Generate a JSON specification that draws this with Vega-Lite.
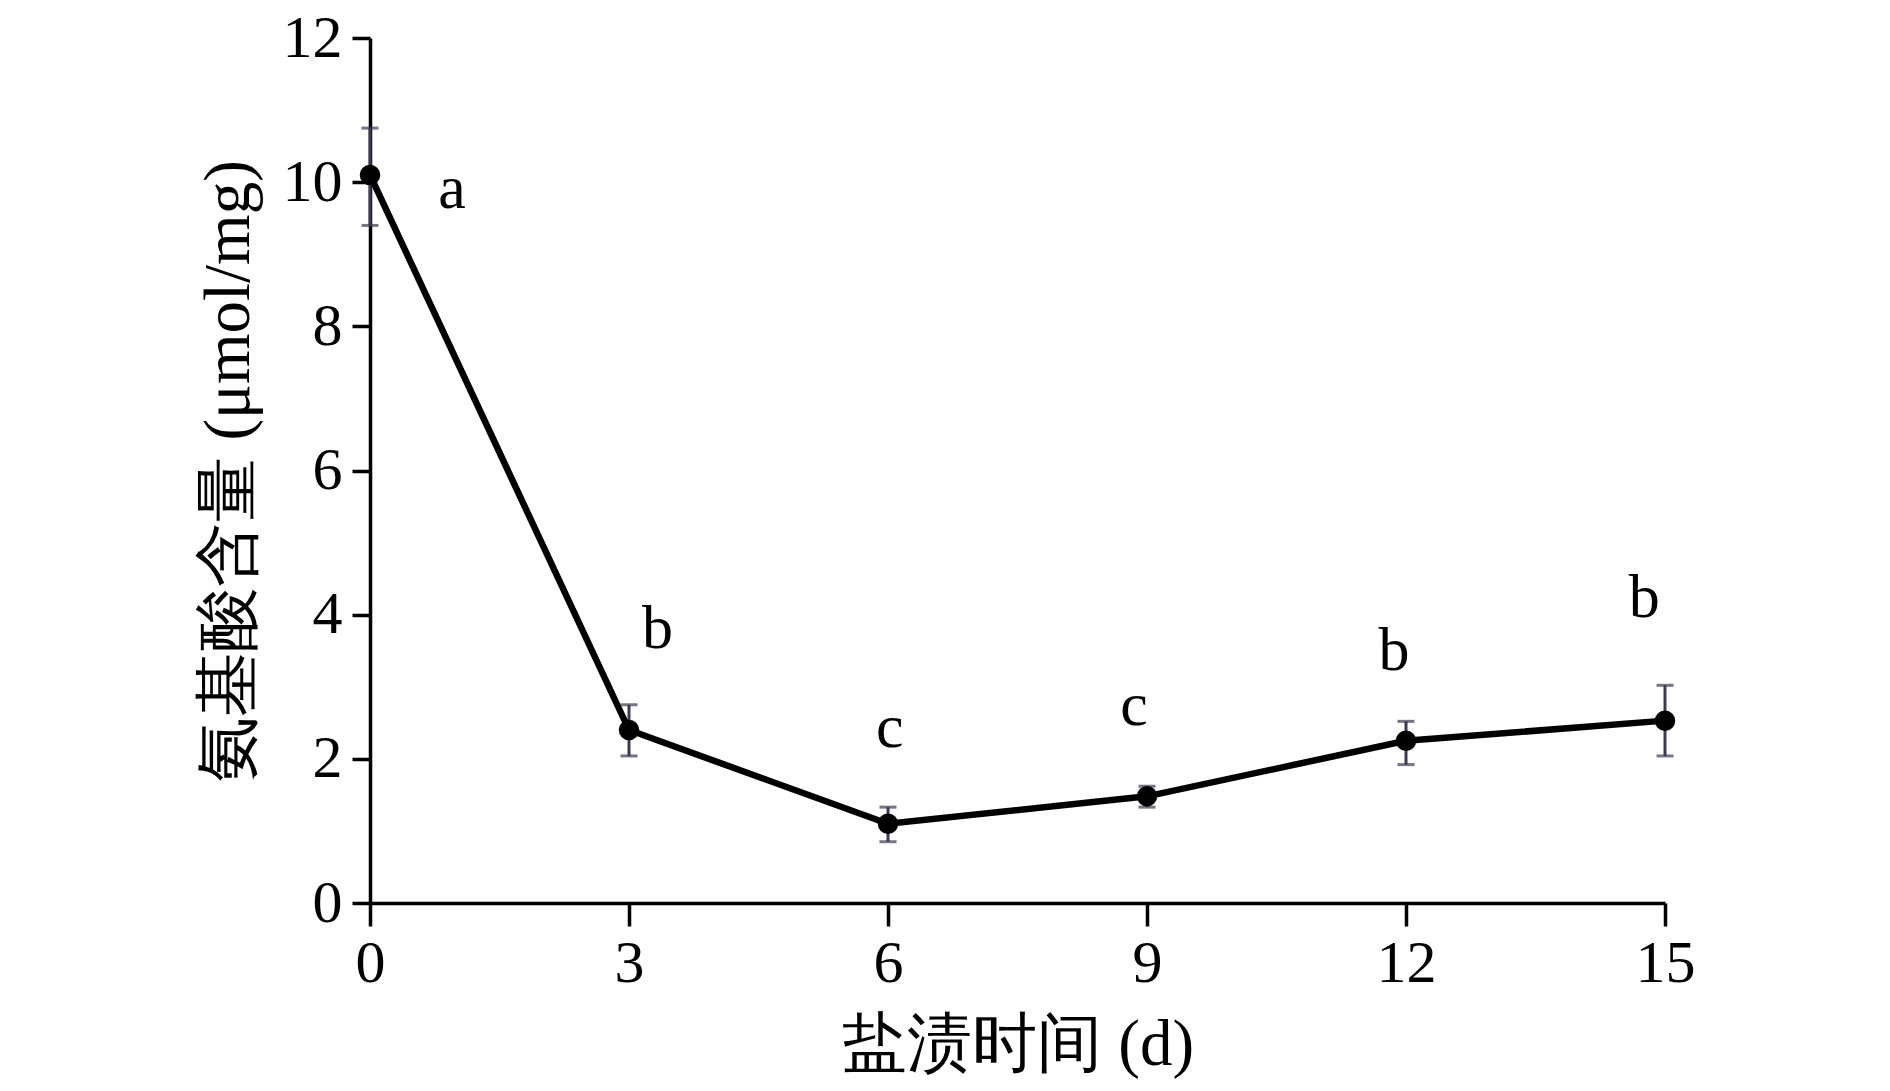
{
  "$schema": "https://vega.github.io/schema/vega-lite/v6.json",
  "autosize": "none",
  "padding": {"left": 370, "top": 38, "right": 225, "bottom": 188},
  "width": 1295,
  "height": 865,
  "background": "white",
  "data": {"values": [
    {"day": 0, "mean": 10.1, "lo": 9.4, "hi": 10.75, "letter": "a", "lx": 0.95, "ly": 9.9},
    {"day": 3, "mean": 2.4, "lo": 2.04, "hi": 2.75, "letter": "b", "lx": 3.33, "ly": 3.8},
    {"day": 6, "mean": 1.1, "lo": 0.85, "hi": 1.33, "letter": "c", "lx": 6.02, "ly": 2.43},
    {"day": 9, "mean": 1.48, "lo": 1.33, "hi": 1.62, "letter": "c", "lx": 8.85, "ly": 2.73},
    {"day": 12, "mean": 2.25, "lo": 1.92, "hi": 2.52, "letter": "b", "lx": 11.86, "ly": 3.5},
    {"day": 15, "mean": 2.53, "lo": 2.04, "hi": 3.02, "letter": "b", "lx": 14.76, "ly": 4.23}
  ]},
  "config": {
    "view": {"stroke": null},
    "font": "Liberation Serif"
  },
  "layer": [
    {
      "mark": {"type": "errorbar", "color": "#3a3a50", "thickness": 3, "ticks": {"size": 17, "thickness": 3, "color": "#3a3a50"}},
      "encoding": {
        "x": {"field": "day", "type": "quantitative",
          "scale": {"domain": [0, 15], "nice": false, "zero": false},
          "axis": {"values": [0, 3, 6, 9, 12, 15], "format": "d", "title": "盐渍时间 (d)", "grid": false, "labelFlush": false,
            "domainColor": "black", "domainWidth": 3.5, "tickColor": "black", "tickWidth": 3.5, "tickSize": 23,
            "labelFont": "Liberation Serif", "labelFontSize": 60, "labelColor": "black", "labelPadding": 8,
            "titleFont": "Liberation Serif", "titleFontSize": 65, "titleFontWeight": "normal", "titleColor": "black", "titlePadding": 20}},
        "y": {"field": "lo", "type": "quantitative",
          "scale": {"domain": [0, 12], "nice": false},
          "axis": {"values": [0, 2, 4, 6, 8, 10, 12], "format": "d", "title": "氨基酸含量 (μmol/mg)", "grid": false, "labelFlush": false,
            "domainColor": "black", "domainWidth": 3.5, "tickColor": "black", "tickWidth": 3.5, "tickSize": 18,
            "labelFont": "Liberation Serif", "labelFontSize": 60, "labelColor": "black", "labelPadding": 10,
            "titleFont": "Liberation Serif", "titleFontSize": 65, "titleFontWeight": "normal", "titleColor": "black", "titlePadding": 20}},
        "y2": {"field": "hi"}
      }
    },
    {
      "mark": {"type": "line", "color": "black", "strokeWidth": 6.5},
      "encoding": {
        "x": {"field": "day", "type": "quantitative"},
        "y": {"field": "mean", "type": "quantitative"}
      }
    },
    {
      "mark": {"type": "point", "shape": "circle", "filled": true, "color": "black", "opacity": 1, "size": 420},
      "encoding": {
        "x": {"field": "day", "type": "quantitative"},
        "y": {"field": "mean", "type": "quantitative"}
      }
    },
    {
      "mark": {"type": "text", "font": "Liberation Serif", "fontSize": 62, "color": "black", "baseline": "middle", "align": "center"},
      "encoding": {
        "x": {"field": "lx", "type": "quantitative"},
        "y": {"field": "ly", "type": "quantitative"},
        "text": {"field": "letter"}
      }
    }
  ]
}
